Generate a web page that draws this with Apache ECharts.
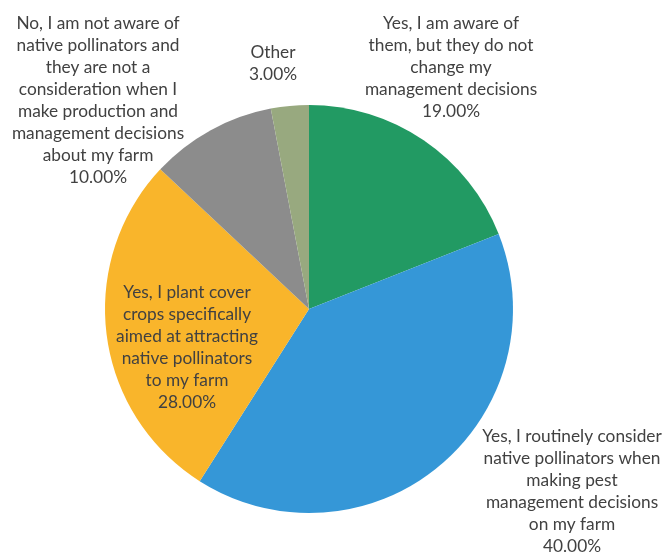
<!DOCTYPE html>
<html>
<head>
<meta charset="utf-8">
<script src="https://cdn.jsdelivr.net/npm/echarts@6/dist/echarts.min.js"></script>
<style>
html,body{margin:0;padding:0;background:#fff;}
#chart{width:665px;height:552px;}
</style>
</head>
<body>
<div id="chart"></div>
<script>
// ---- data ----
const categories = [
  "Yes, I am aware of\nthem, but they do not\nchange my\nmanagement decisions",
  "Yes, I routinely consider\nnative pollinators when\nmaking pest\nmanagement decisions\non my farm",
  "Yes, I plant cover\ncrops specifically\naimed at attracting\nnative pollinators\nto my farm",
  "No, I am not aware of\nnative pollinators and\nthey are not a\nconsideration when I\nmake production and\nmanagement decisions\nabout my farm",
  "Other"
];
const values = [19, 40, 28, 10, 3];

// ---- styling (not data) ----
const colors = ['#229a63', '#3597d7', '#f9b52b', '#8c8c8c', '#98a97f'];
const labelCenters = [[451, 67], [572, 491], [187, 347], [98, 100], [273, 63]];

const chart = echarts.init(document.getElementById('chart'), null, {renderer: 'canvas'});
chart.setOption({
  backgroundColor: '#ffffff',
  animation: false,
  series: [{
    type: 'pie',
    center: [309, 309],
    radius: 204,
    startAngle: 90,
    clockwise: true,
    avoidLabelOverlap: false,
    data: categories.map((c, i) => ({
      name: c,
      value: values[i],
      itemStyle: {color: colors[i]}
    })),
    label: {
      show: true,
      position: 'outside',
      fontFamily: 'Lato',
      fontSize: 17.3,
      lineHeight: 22,
      color: '#414141',
      align: 'center',
      formatter: p => p.name + '\n' + p.value.toFixed(2) + '%'
    },
    labelLine: {show: false},
    labelLayout: function (params) {
      const c = labelCenters[params.dataIndex];
      return {x: c[0], y: c[1], align: 'center', verticalAlign: 'middle'};
    },
    itemStyle: {borderWidth: 0}
  }]
});
</script>
</body>
</html>
